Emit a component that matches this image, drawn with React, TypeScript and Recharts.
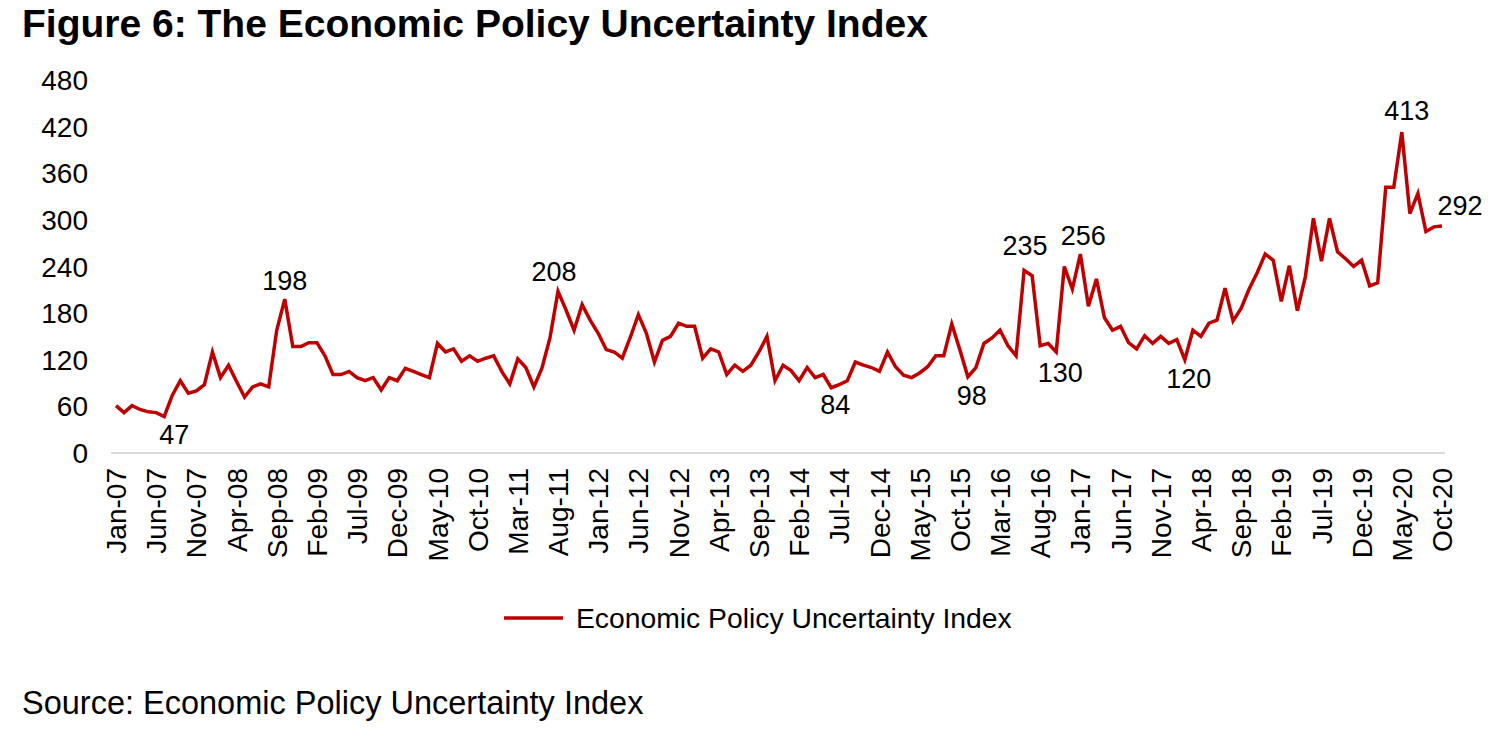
import React from 'react';
import { LineChart, Line, XAxis, YAxis, Legend, LabelList } from 'recharts';

const MONTHS = ['Jan', 'Feb', 'Mar', 'Apr', 'May', 'Jun', 'Jul', 'Aug', 'Sep', 'Oct', 'Nov', 'Dec'];
const START_YEAR = 2007;

// monthly index, Jan-07 .. Oct-20
const epuValues = [
  61, 52, 61, 56, 53, 52, 47, 74, 93, 77, 80, 88,
  130, 97, 113, 92, 72, 85, 89, 85, 158, 198, 137, 137,
  142, 142, 125, 101, 101, 105, 97, 93, 97, 81, 97, 93,
  109, 105, 101, 97, 141, 130, 134, 118, 125, 118, 122, 125,
  105, 89, 121, 110, 85, 109, 148, 208, 184, 158, 191, 171,
  154, 133, 130, 122, 149, 178, 154, 117, 145, 150, 167, 163,
  163, 122, 134, 130, 101, 113, 105, 113, 130, 150, 93, 113,
  106, 93, 110, 97, 101, 84, 88, 93, 117, 113, 110, 105,
  130, 111, 100, 97, 103, 111, 125, 125, 166, 133, 98, 110,
  141, 148, 158, 138, 125, 235, 228, 138, 141, 130, 240, 211,
  256, 189, 224, 174, 158, 163, 142, 134, 151, 141, 150, 141,
  146, 120, 158, 150, 167, 171, 212, 170, 186, 211, 232, 256,
  248, 195, 241, 183, 227, 302, 247, 302, 259, 250, 240, 248,
  215, 219, 342, 342, 413, 308, 334, 285, 291, 292,
];

const xTickLabels = [
  'Jan-07', 'Jun-07', 'Nov-07', 'Apr-08', 'Sep-08', 'Feb-09', 'Jul-09', 'Dec-09',
  'May-10', 'Oct-10', 'Mar-11', 'Aug-11', 'Jan-12', 'Jun-12', 'Nov-12', 'Apr-13',
  'Sep-13', 'Feb-14', 'Jul-14', 'Dec-14', 'May-15', 'Oct-15', 'Mar-16', 'Aug-16',
  'Jan-17', 'Jun-17', 'Nov-17', 'Apr-18', 'Sep-18', 'Feb-19', 'Jul-19', 'Dec-19',
  'May-20', 'Oct-20',
];

const yTicks = [0, 60, 120, 180, 240, 300, 360, 420, 480];

// points that carry a data label
const labelledPoints = [6, 21, 55, 89, 106, 113, 117, 120, 133, 160, 165];

const categories = epuValues.map(
  (_, i) => `${MONTHS[i % 12]}-${String((START_YEAR + Math.floor(i / 12)) % 100).padStart(2, '0')}`
);

const chartData = categories.map((month, i) => ({ month, epu: epuValues[i] }));

// label placement tweaks (dx, baseline offset from point)
const labelOffsets: Record<number, [number, number]> = {
  6: [10, 28],
  21: [0, -9],
  55: [-4, -10],
  89: [4, 26],
  106: [4, 28],
  113: [1, -15],
  117: [4, 30],
  120: [3, -9],
  133: [4, 28],
  160: [5, -12],
  165: [18, -11],
};

const FONT = '"Liberation Sans", Arial, Helvetica, sans-serif';
const RED = '#C00000';

const XTick = (props: any) => {
  const { x, y, payload } = props;
  if (!xTickLabels.includes(payload.value)) return null;
  return (
    <text
      x={0}
      y={0}
      dy="0.36em"
      textAnchor="end"
      transform={`translate(${x},${y}) rotate(-90)`}
      fontSize={28}
      fontFamily={FONT}
      fill="#000"
    >
      {payload.value}
    </text>
  );
};

const YTick = (props: any) => {
  const { x, y, payload } = props;
  return (
    <text x={x} y={y} dy="0.36em" textAnchor="end" fontSize={28} fontFamily={FONT} fill="#000">
      {payload.value}
    </text>
  );
};

const PointLabel = (props: any) => {
  const { x, y, value, index } = props;
  if (!labelledPoints.includes(index)) return null;
  const [dx, dy] = labelOffsets[index] || [0, -10];
  return (
    <text x={x + dx} y={y + dy} textAnchor="middle" fontSize={27} fontFamily={FONT} fill="#000">
      {value}
    </text>
  );
};

const renderLegend = (props: any) => {
  const { payload } = props;
  return (
    <div style={{ display: 'flex', alignItems: 'center', paddingLeft: 504 }}>
      {(payload || []).map((entry: any) => (
        <div key={entry.value} style={{ display: 'flex', alignItems: 'center' }}>
          <svg width={59} height={10}>
            <line x1={0} y1={5} x2={59} y2={5} stroke={RED} strokeWidth={3.5} />
          </svg>
          <span style={{ marginLeft: 13, fontSize: 28.3, fontFamily: FONT, color: '#000', lineHeight: '32px' }}>
            {entry.value}
          </span>
        </div>
      ))}
    </div>
  );
};

export default function App() {
  return (
    <div
      style={{
        position: 'absolute',
        left: 0,
        top: 0,
        width: 1508,
        height: 738,
        background: '#fff',
        fontFamily: FONT,
        overflow: 'hidden',
      }}
    >
      <div
        style={{
          position: 'absolute',
          left: 22,
          top: 0,
          fontSize: 39,
          fontWeight: 'bold',
          lineHeight: '48px',
          color: '#000',
          whiteSpace: 'nowrap',
        }}
      >
        Figure 6: The Economic Policy Uncertainty Index
      </div>

      <div style={{ position: 'absolute', left: 0, top: 0 }}>
        <LineChart
          width={1508}
          height={738}
          data={chartData}
          margin={{ top: 80, right: 63, bottom: 165, left: 0 }}
        >
          <XAxis
            dataKey="month"
            interval={0}
            height={120}
            tick={<XTick />}
            tickLine={false}
            tickSize={0}
            tickMargin={15}
            axisLine={{ stroke: '#D9D9D9', strokeWidth: 2 }}
            padding={{ left: 5, right: 3 }}
          />
          <YAxis
            domain={[0, 480]}
            ticks={yTicks}
            width={111}
            tick={<YTick />}
            tickLine={false}
            axisLine={false}
            tickSize={0}
            tickMargin={23}
          />
          <Legend
            verticalAlign="middle"
            align="center"
            content={renderLegend}
            wrapperStyle={{ left: 0, top: 602, width: 1508 }}
          />
          <Line
            type="linear"
            dataKey="epu"
            name="Economic Policy Uncertainty Index"
            stroke={RED}
            strokeWidth={3.5}
            dot={false}
            isAnimationActive={false}
          >
            <LabelList dataKey="epu" content={<PointLabel />} />
          </Line>
        </LineChart>
      </div>

      <div
        style={{
          position: 'absolute',
          left: 22,
          top: 684,
          fontSize: 32.5,
          lineHeight: '38px',
          color: '#000',
          whiteSpace: 'nowrap',
        }}
      >
        Source: Economic Policy Uncertainty Index
      </div>
    </div>
  );
}
